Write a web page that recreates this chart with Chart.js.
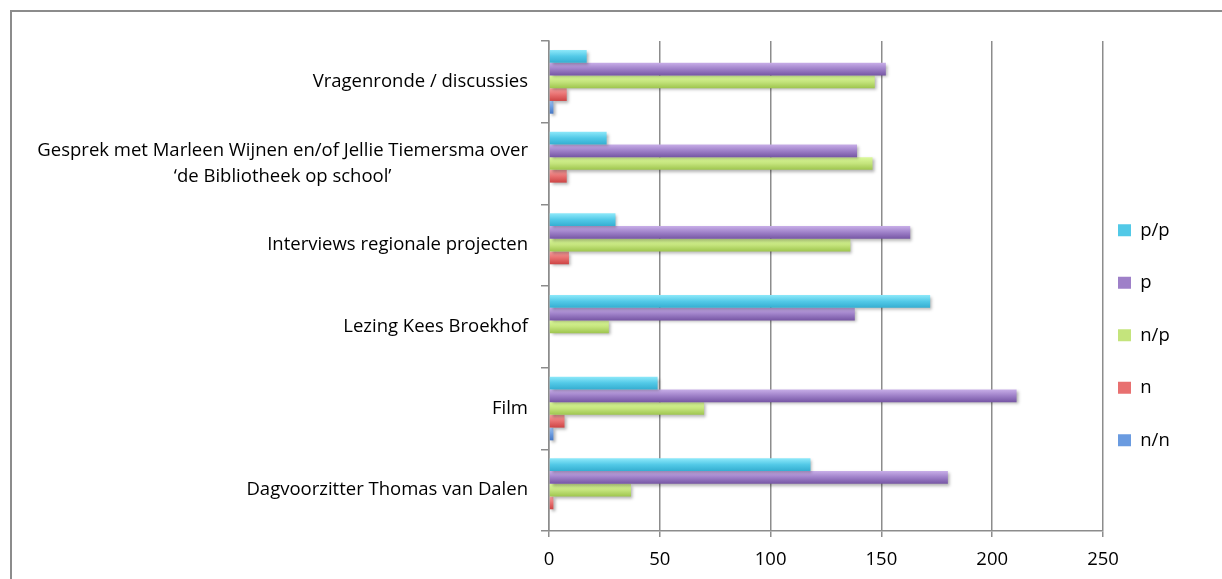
<!DOCTYPE html>
<html><head><meta charset="utf-8">
<script src="https://cdn.jsdelivr.net/npm/chart.js@4.4.1/dist/chart.umd.min.js"></script>
<style>
html,body{margin:0;padding:0;background:#fff;width:1222px;height:579px;overflow:hidden}
#wrap{position:absolute;left:0;top:0;width:1222px;height:579px}
#frame{position:absolute;left:10px;top:10px;width:1400px;height:800px;border-top:2px solid #8c8c8c;border-left:2px solid #8c8c8c;pointer-events:none}
</style></head><body>
<div id="wrap"><canvas id="c"></canvas></div>
<div id="frame"></div>
<script>
// ---- data ----
const categories = [
  'Vragenronde / discussies',
  ['Gesprek met Marleen Wijnen en/of Jellie Tiemersma over', '\u2018de Bibliotheek op school\u2019'],
  'Interviews regionale projecten',
  'Lezing Kees Broekhof',
  'Film',
  'Dagvoorzitter Thomas van Dalen'
];
const seriesNames = ['p/p', 'p', 'n/p', 'n', 'n/n'];
const ppValues = [17, 26, 30, 172, 49, 118];
const pValues  = [152, 139, 163, 138, 211, 180];
const npValues = [147, 146, 136, 27, 70, 37];
const nValues  = [8, 8, 9, 0, 7, 2];
const nnValues = [2, 0, 0, 0, 2, 0];
const xTicks = [0, 50, 100, 150, 200, 250];

// ---- styles ----
const seriesColors = ['#52C9E7', '#9E80C8', '#C4E47C', '#E87070', '#6A9BE0'];
const seriesGrad = [
  ['#8EE9FA', '#52C9E7', '#35AED1'],
  ['#C8AEE8', '#9E80C8', '#7656A4'],
  ['#DCFA9C', '#C4E47C', '#9EC54E'],
  ['#F6A0A0', '#E87070', '#CD4444'],
  ['#9CC2F2', '#6A9BE0', '#4577C4']
];
const seriesValues = [ppValues, pValues, npValues, nValues, nnValues];
const FONT = 'Open Sans';
const FS = 18.5;
const GRID = '#8c8c8c';

const barLook = {
  id: 'barLook',
  afterLayout(chart) {
    const lg = chart.legend;
    if (!lg) return;
    const pad = lg.options.labels.padding;
    const w = lg.width, h = lg.height;
    lg.left = 1118 - pad; lg.right = lg.left + w;
    lg.top = 221 - pad; lg.bottom = lg.top + h;
  },
  beforeDraw(chart) {
    // centre the lines of multi-line category labels on each other
    const s = chart.scales.y;
    const ctx = chart.ctx;
    s.getLabelItems().forEach(it => {
      if (Array.isArray(it.label) && it.label.length > 1) {
        ctx.save();
        ctx.font = it.font.string;
        const w = Math.max(...it.label.map(t => ctx.measureText(t).width));
        ctx.restore();
        const tr = it.options.translation;
        it.options = Object.assign({}, it.options, { textAlign: 'center', translation: [tr[0] - w / 2, tr[1]] });
      }
    });
  },
  beforeDatasetsDraw(chart) {
    const ctx = chart.ctx;
    chart.data.datasets.forEach((ds, i) => {
      const meta = chart.getDatasetMeta(i);
      const stops = seriesGrad[i];
      meta.data.forEach(el => {
        const h = el.height, top = el.y - h / 2;
        const g = ctx.createLinearGradient(0, top, 0, top + h);
        g.addColorStop(0, stops[0]);
        g.addColorStop(0.5, stops[1]);
        g.addColorStop(1, stops[2]);
        el.options = Object.assign({}, el.options, { backgroundColor: g });
      });
    });
    ctx.save();
    ctx.shadowColor = 'rgba(0,0,0,0.3)';
    ctx.shadowBlur = 3;
    ctx.shadowOffsetX = 2;
    ctx.shadowOffsetY = 2;
  },
  afterDatasetsDraw(chart) {
    chart.ctx.restore();
  }
};

new Chart(document.getElementById('c'), {
  type: 'bar',
  data: {
    labels: categories,
    datasets: seriesNames.map((name, i) => ({
      label: name,
      data: seriesValues[i],
      backgroundColor: seriesColors[i],
      borderWidth: 0,
      categoryPercentage: 0.78,
      barPercentage: 1.0
    }))
  },
  options: {
    indexAxis: 'y',
    responsive: true,
    maintainAspectRatio: false,
    animation: false,
    devicePixelRatio: 1,
    layout: { padding: { top: 41, right: 119, bottom: 0, left: 0 } },
    plugins: {
      legend: {
        position: 'chartArea',
        align: 'start',
        labels: {
          font: { family: FONT, size: FS },
          color: '#000',
          boxWidth: 13,
          boxHeight: 12,
          padding: 34
        }
      },
      tooltip: { enabled: false },
      title: { display: false }
    },
    scales: {
      x: {
        min: xTicks[0],
        max: xTicks[xTicks.length - 1],
        afterFit(s) { s.height = 48; },
        afterBuildTicks(s) { s.ticks = xTicks.map(v => ({ value: v })); },
        grid: { color: GRID, lineWidth: 1.5, tickLength: 6, drawTicks: true },
        border: { display: true, color: GRID, width: 1.5 },
        ticks: { font: { family: FONT, size: FS }, color: '#000', padding: 12 }
      },
      y: {
        afterFit(s) { s.width = 549; },
        grid: { display: true, drawOnChartArea: false, drawTicks: true, tickLength: 8, color: GRID, lineWidth: 1.5, offset: true },
        border: { display: true, color: GRID, width: 1.5 },
        ticks: { font: { family: FONT, size: FS, lineHeight: 1.4 }, color: '#000', padding: 13 }
      }
    }
  },
  plugins: [barLook]
});
</script>
</body></html>
